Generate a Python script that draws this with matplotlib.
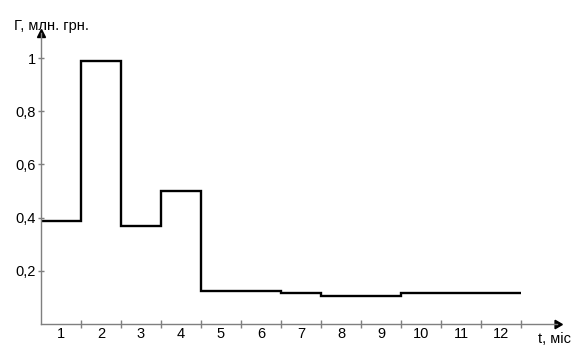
import numpy as np
import matplotlib
matplotlib.use('Agg')
import matplotlib.pyplot as plt

plt.rcParams['font.family'] = ['Liberation Sans', 'DejaVu Sans']

months = [1, 2, 3, 4, 5, 6, 7, 8, 9, 10, 11, 12]
month_labels = [str(m) for m in months]
# Г, млн. грн. per month
values = [0.388, 0.99, 0.37, 0.50, 0.123, 0.123, 0.115, 0.104, 0.104, 0.115, 0.115, 0.115]
y_ticks = [0.2, 0.4, 0.6, 0.8, 1.0]
y_labels = ['0,2', '0,4', '0,6', '0,8', '1']

axis_color = '#7f7f7f'
fs = 10.5

fig = plt.figure(figsize=(5.87, 3.53), dpi=100)
ax = fig.add_axes([41 / 587, 29 / 353, (557 - 41) / 587, (320 - 29) / 353])
ax.set_xlim(0.5, 13.4)
ax.set_ylim(0, 1.094)

edges = np.arange(0.5, len(months) + 1, 1.0)
ax.stairs(values, edges, baseline=None, color='black', linewidth=1.7)

# axes with arrows
for side in ['top', 'right']:
    ax.spines[side].set_visible(False)
for side in ['left', 'bottom']:
    ax.spines[side].set_color(axis_color)
    ax.spines[side].set_linewidth(1.0)
ax.plot(1, 0, marker=(3, 0, -90), markersize=7, color='black',
        transform=ax.transAxes, clip_on=False)
ax.plot(0, 1, marker='^', markersize=6, color='black',
        transform=ax.transAxes, clip_on=False)

# x: labels in the middle of each month, tick marks at month borders
ax.set_xticks(months)
ax.set_xticklabels(month_labels)
ax.tick_params(axis='x', which='major', length=0, pad=2, labelsize=fs)
ax.set_xticks(edges[1:], minor=True)
ax.tick_params(axis='x', which='minor', direction='inout', length=6,
               width=1, color=axis_color)

ax.set_yticks(y_ticks)
ax.set_yticklabels(y_labels)
ax.tick_params(axis='y', direction='inout', length=5, width=1,
               color=axis_color, pad=1, labelsize=fs)

fig.text(14 / 587, 1 - 26 / 353, 'Г, млн. грн.', fontsize=fs,
         ha='left', va='center')
fig.text(538 / 587, 1 - 339 / 353, 't, міс', fontsize=fs,
         ha='left', va='center')

plt.savefig('out.png', dpi=100)
